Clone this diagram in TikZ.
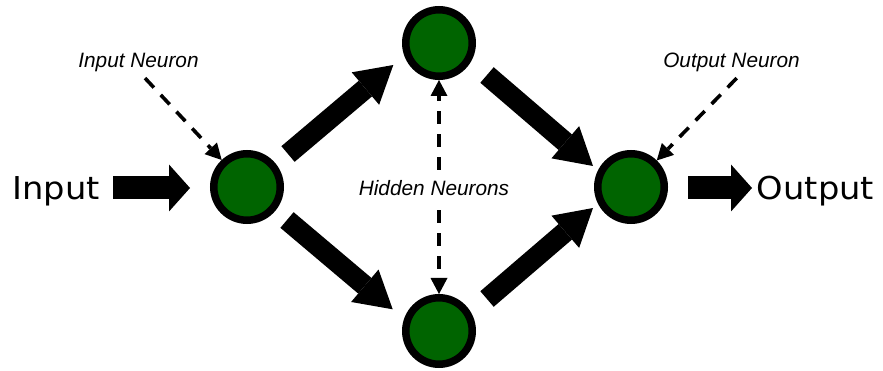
\documentclass[tikz,border=0pt]{standalone}
\usepackage{fontspec}
\setmainfont{Liberation Sans}
\newfontfamily\bigfont[FakeStretch=1.07]{DejaVu Sans}
\usetikzlibrary{arrows.meta,calc}
\definecolor{neurongreen}{RGB}{0,100,0}
\begin{document}
\begin{tikzpicture}[x=1pt,y=-1pt,
  neuron/.style={circle,draw=black,line width=7.5pt,fill=neurongreen,minimum size=66.5pt,inner sep=0pt},
  flow/.style={line width=20.5pt,-{Triangle[width=42.5pt,length=36.5pt,line width=0pt]}},
  io/.style={line width=23pt,-{Triangle[width=47pt,length=21pt,line width=0pt]}},
  pointer/.style={line width=3.6pt,dash pattern=on 13pt off 10pt,-{Triangle[width=17pt,length=16pt,line width=0pt]}},
  biglabel/.style={font=\bigfont\fontsize{31.5}{36}\selectfont,anchor=base,inner sep=0pt},
  smalllabel/.style={font=\itshape\fontsize{20.8}{24}\selectfont,anchor=base,inner sep=1pt}]
\useasboundingbox (0,0) rectangle (883,371);

% neurons
\node[neuron] (in)  at (247,187) {};
\node[neuron] (top) at (439,43)  {};
\node[neuron] (bot) at (439,331) {};
\node[neuron] (out) at (631,187) {};

% main flow arrows
\draw[flow] ($(in)+(41,-33)$) -- ($(top)+(-45.7,22)$);
\draw[flow] ($(in)+(40,33)$) -- ($(bot)+(-46.3,-21.7)$);
\draw[flow] ($(top)+(48,32)$) -- ($(out)+(-38,-21)$);
\draw[flow] ($(bot)+(48,-32)$) -- ($(out)+(-38,21)$);

% input / output
\node[biglabel] (inlbl) at (56,200) {Input};
\node[biglabel] (outlbl) at (815.5,200) {Output};
\draw[io] ($(in)+(-134,1)$) -- ($(in)+(-57,1)$);
\draw[io] ($(out)+(57,1)$) -- ($(out)+(121,1)$);

% annotations
\node[smalllabel] (inN) at (138.5,68) {Input Neuron};
\node[smalllabel] (outN) at (731.5,68) {Output Neuron};
\node[smalllabel] (hid) at (434,196) {Hidden Neurons};
\draw[pointer] ($(inN.south)+(6.5,4.6)$) -- (in);
\draw[pointer] ($(outN.south)+(5.2,4.6)$) -- (out);
\draw[pointer] ($(top |- hid.north)+(0,-10)$) -- (top);
\draw[pointer] ($(bot |- hid.south)+(0,13)$) -- (bot);
\end{tikzpicture}
\end{document}
